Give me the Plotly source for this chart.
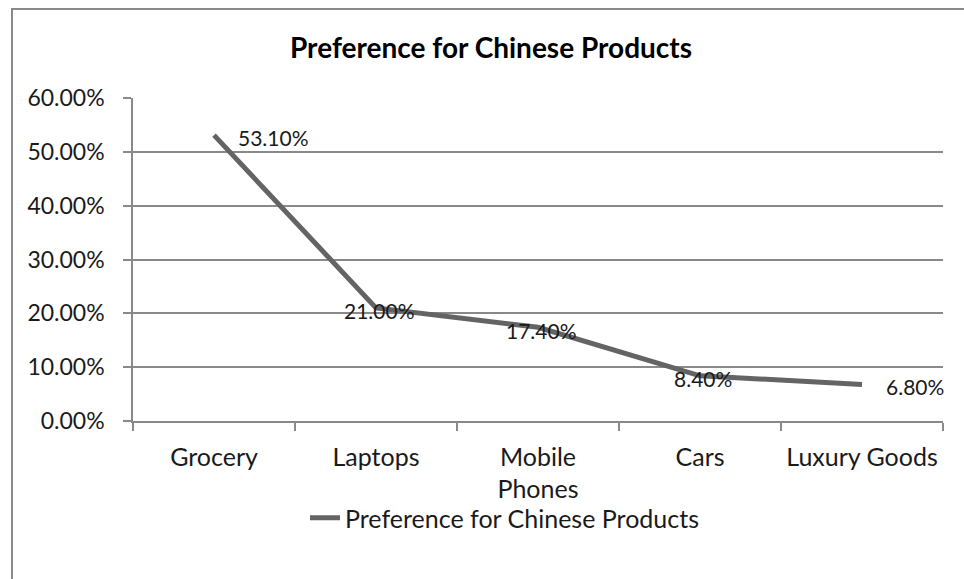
import plotly.graph_objects as go

categories = ["Grocery", "Laptops", "Mobile<br>Phones", "Cars", "Luxury Goods"]
values = [0.531, 0.210, 0.174, 0.084, 0.068]
value_labels = ["53.10%", "21.00%", "17.40%", "8.40%", "6.80%"]
label_side = ["right", "center", "center", "center", "right"]
y_ticks = [0.0, 0.1, 0.2, 0.3, 0.4, 0.5, 0.6]
series_name = "Preference for Chinese Products"
title_text = "Preference for Chinese Products"

W, H = 964, 579
L, R, T, B = 133, 21, 98, 158
pw, ph = W - L - R, H - T - B

FONT = "Lato"
GRID = "#898989"
LINE = "#646464"
TXT = "#1a1a1a"

fig = go.Figure()
fig.add_trace(go.Scatter(
    x=categories, y=values, mode="lines", name=series_name,
    line=dict(color=LINE, width=5), showlegend=True,
))

annotations = []
for c, v, t, side in zip(categories, values, value_labels, label_side):
    if side == "right":
        annotations.append(dict(x=c, y=v, xref="x", yref="y", text=t, showarrow=False,
                                xanchor="left", yanchor="middle", xshift=22, yshift=-2,
                                font=dict(family=FONT, size=21, color=TXT)))
    else:
        annotations.append(dict(x=c, y=v, xref="x", yref="y", text=t, showarrow=False,
                                xanchor="center", yanchor="middle", xshift=3, yshift=-3,
                                font=dict(family=FONT, size=21, color=TXT)))

annotations.append(dict(x=(491 - L) / pw, y=(H - B - 47) / ph, xref="paper", yref="paper",
                        showarrow=False, text="<b>" + title_text + "</b>",
                        xanchor="center", yanchor="middle",
                        font=dict(family=FONT, size=28, color="#000000")))

fig.update_layout(
    width=W, height=H,
    margin=dict(l=L, r=R, t=T, b=B, pad=0),
    paper_bgcolor="white", plot_bgcolor="white",
    font=dict(family=FONT, size=24, color=TXT),
    annotations=annotations,
    showlegend=True,
    legend=dict(orientation="h", x=(305 - L) / pw, xanchor="left",
                y=-(518 - (H - B)) / ph, yanchor="middle",
                font=dict(family=FONT, size=25, color=TXT),
                bgcolor="rgba(0,0,0,0)", itemwidth=30),
    shapes=[dict(type="rect", xref="paper", yref="paper",
                 x0=(12 - L) / pw, x1=(980 - L) / pw,
                 y0=-(600 - (H - B)) / ph, y1=(H - B - 9) / ph,
                 line=dict(color="#8a8a8a", width=2), fillcolor="rgba(0,0,0,0)", layer="below")],
)

fig.update_xaxes(
    type="category", range=[-0.5, 4.5], tickson="boundaries",
    ticks="outside", ticklen=8, tickcolor=GRID, tickwidth=1.5,
    showline=True, linecolor=GRID, linewidth=1.5,
    showgrid=False, zeroline=False, ticklabelstandoff=13,
    tickfont=dict(family=FONT, size=25, color=TXT),
)
fig.update_yaxes(
    range=[0, 0.6], tickvals=y_ticks, tickformat=".2%",
    ticks="outside", ticklen=8, tickcolor=GRID, tickwidth=1.5,
    showline=True, linecolor=GRID, linewidth=1.5,
    showgrid=True, gridcolor=GRID, gridwidth=1.5, zeroline=False,
    ticklabelstandoff=14,
    tickfont=dict(family=FONT, size=23, color=TXT),
)

fig.write_html("out.html")
